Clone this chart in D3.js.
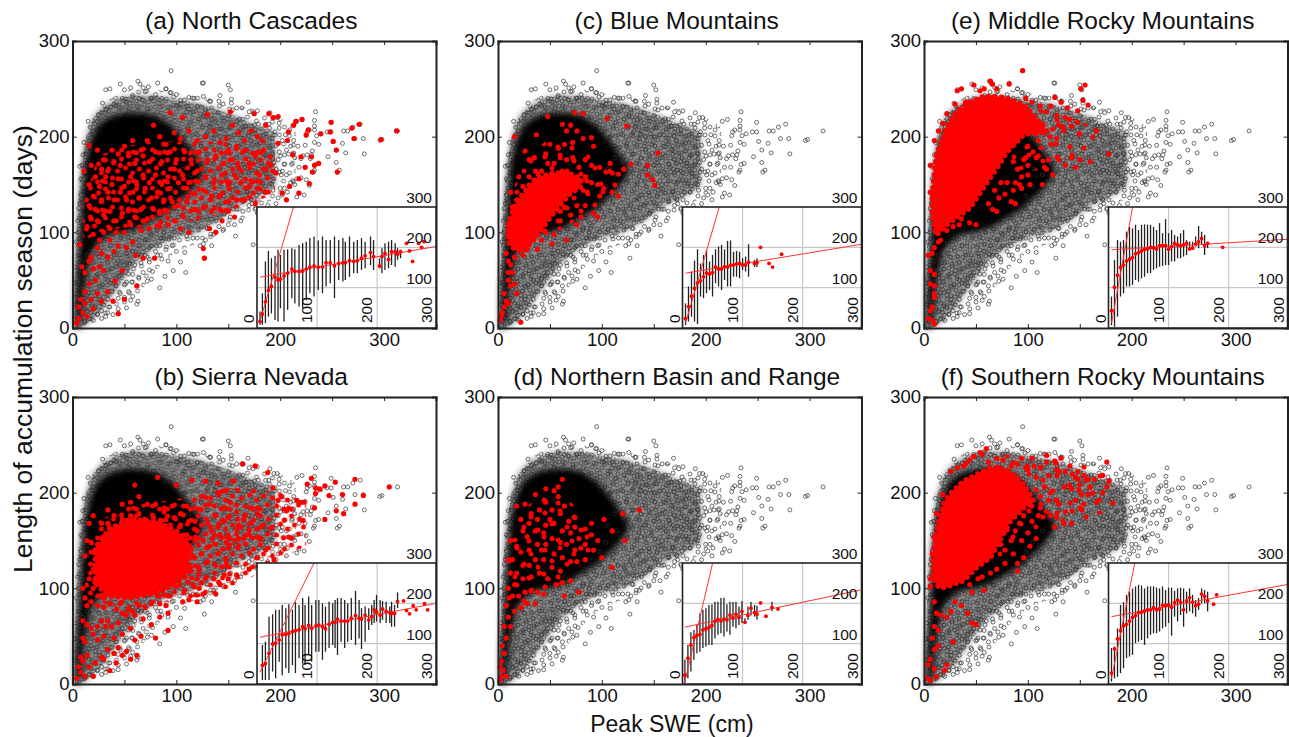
<!DOCTYPE html>
<html>
<head>
<meta charset="utf-8">
<title>Peak SWE vs accumulation season</title>
<script src="https://cdn.jsdelivr.net/npm/d3@7"></script>
<style>
body {margin:0; background:#fff;}
text {font-family:"Liberation Sans",Arial,sans-serif; fill:#111;}
</style>
</head>
<body>
<svg width="1289" height="737"></svg>
<script>
// x,y pairs read by eye: all sites, same grey cloud in every panel
const blackPts = [95,269,126,256,150,254,152,249,142,243,153,239,153,235,169,236,145,234,141,237,132,237,126,242,117,240,112,241,90,250,94,246,234,226,221,218,216,216,233,217,249,215,277,213,270,210,265,206,261,206,313,206,298,197,296,196,280,198,272,198,260,193,251,195,249,205,245,205,239,203,235,201,233,207,233,211,226,205,228,207,225,201,237,192,233,194,254,186,263,183,281,182,246,179,254,173,257,165,255,163,237,172,234,171,233,165,232,163,224,168,211,171,204,171,231,185,230,181,226,181,222,180,220,177,229,177,212,182,213,183,204,181,199,184,193,182,217,190,213,196,209,207,205,202,202,196,197,220,194,220,190,225,199,214,199,209,195,205,189,213,186,213,179,213,175,212,178,227,174,225,170,226,164,218,167,211,162,208,158,230,154,228,163,230,228,149,225,155,220,157,216,156,212,154,202,164,201,160,194,156,190,158,186,162,223,139,218,141,216,137,207,142,206,134,202,139,198,136,193,144,185,142,178,134,172,135,173,130,164,132,157,145,183,151,178,154,172,151,
84,42,109,58,97,60,89,54,127,73,104,69,77,59,72,49,76,51,62,44,57,48,63,28,62,25,56,29,50,32,44,31,52,21,44,15,39,14,32,12,58,33,50,45,45,54,42,51,64,52,55,68,53,62,74,69,82,76,66,76,63,77,88,94,93,93,108,79,123,86,126,88,134,86,130,104,136,98,133,98,157,96,174,87,145,102,141,106,146,119,156,108,
63,258,65,255,68,251,73,252,82,256,46,255,50,249,56,251,36,250,32,249,90,250,95,246,125,256,133,237,15,216,29,235,25,223,37,231,32,228,40,234,11,194,7,169,8,156,8,139,10,181,6,125,
170,205,176,208,181,201,186,203,192,198,172,196,178,192,184,194,190,188,196,191,168,186,174,183,180,185,186,180,192,182,198,176,170,176,176,174,182,172,188,170,194,173,166,168,172,165,178,162,184,166,164,198,160,190,158,178,155,170,162,160,150,222,146,216,152,210,158,216,140,225,134,218,128,228,144,208,150,200,138,206,132,210,126,222,120,232,116,226,110,232,104,238,100,232,108,222,148,192,142,186,152,182,146,176,158,150,154,144,148,156,142,148,136,158,152,130,146,138,140,128,134,136,128,128,122,120,130,114,138,112,146,120,152,116,164,122,170,128,176,124,162,112,168,142,158,124,150,108,118,112,112,106,124,106,104,100,110,96,98,94,116,94,96,86,90,82,84,86,80,80,74,84,70,76,
210,190,214,178,206,186,224,191,218,168,206,160,210,152,196,166,192,150,200,146,186,148,180,142,188,128,196,130,204,146,214,150,178,120,120,94,128,92,100,80,86,72,92,70,74,72,66,68,60,66,68,58,58,56,52,48,48,58,42,44,46,36,38,38,34,30,30,24,26,30,22,22,24,14,18,16,16,10,20,8,12,6,28,18,36,22,54,38,44,20,34,16,28,10,16,26,22,34,14,34,12,20,10,14,8,10,18,40,26,44,34,50,38,62,44,70,52,78,30,60,24,56,18,52,14,48,12,60,20,68,26,74,14,76,10,70,8,84,6,60,5,48,4,34,5,22,3,14,7,38,6,100,4,90,5,112,7,130,12,150,9,170,13,182,16,196,20,206,17,210,24,216,28,225,34,222,42,232,48,240,52,236,58,243,64,240,70,247,76,240,80,244,86,240,100,244,104,234,
130,204,136,198,142,200,124,190,130,182,136,172,142,166,128,166,124,156,132,150,118,146,114,160,120,174,116,188,108,200,112,178,106,166,104,148,110,136,98,138,100,122,92,118,88,110,82,104,76,98,88,100,70,92,64,86,58,80,52,68,46,66,40,76,34,68];
const bandX = [1,4,8,14,22,30,45,60,80,100,120,140,160,180,200,215];
const bandLow = [0,0,0,2,6,10,18,30,60,80,88,95,110,125,140,150];
const bandHigh = [40,110,170,205,225,235,245,250,250,245,243,238,232,228,220,210];
const midX = [2,6,12,20,30,45,60,80,100,120,140,160,175,195];
const midLow = [0,0,3,10,22,45,68,85,95,100,112,128,135,148];
const midHigh = [50,140,195,220,232,240,243,242,238,235,228,220,212,205];
const coreX = [3,7,12,18,25,35,50,65,80,95,105,115,125];
const coreLow = [0,0,50,80,90,98,100,105,115,125,135,145,160];
const coreHigh = [30,90,170,198,212,220,225,225,222,212,200,185,170];

// red points per region
const redA = [312,206,297,197,276,213,271,198,269,209,251,195,254,186,255,163,249,215,248,205,239,203,231,163,237,172,233,170,230,179,227,207,225,202,221,218,215,216,213,212,208,205,207,196,212,181,220,179,224,168,228,151,218,156,218,141,206,134,209,148,202,141,198,221,193,220,189,224,186,212,183,196,198,193,190,179,191,170,175,224,152,226,130,223,106,220,94,225,126,83,127,73,79,73,68,73,61,76,62,44,50,30,44,15,39,28,41,49,16,191,11,164,7,87,9,64,
178,200,172,206,166,196,160,204,154,212,148,198,184,186,176,180,170,172,164,184,158,190,150,186,142,194,136,206,128,200,120,196,112,206,104,198,98,204,90,192,84,200,78,212,72,196,66,186,58,196,50,190,44,182,38,186,30,176,24,186,18,170,160,168,154,176,146,172,138,180,130,176,122,184,114,176,108,184,100,176,94,184,86,174,80,184,74,174,68,180,60,172,54,180,46,170,40,174,34,164,28,166,22,158,16,150,172,154,180,160,186,166,196,162,178,146,170,148,162,152,156,160,150,150,144,160,136,152,128,158,120,164,112,152,106,160,98,166,92,158,86,150,80,160,74,152,68,160,62,150,56,158,50,148,44,156,38,150,32,158,26,148,20,138,16,128,166,134,158,134,150,132,142,138,134,138,126,144,118,140,110,146,102,152,94,146,88,134,82,142,76,136,70,146,64,136,58,142,52,134,46,142,40,134,34,142,28,134,22,124,18,114,150,122,142,124,134,122,126,126,118,124,110,132,102,128,96,132,90,122,84,120,78,124,72,114,66,124,60,116,54,124,48,120,42,112,36,122,30,118,24,112,20,98,26,92,14,106,106,118,98,112,92,108,84,106,74,104,66,102,56,108,50,100,42,100,36,104,30,100,44,86,40,80,36,92,28,78,24,84,18,74,34,74,26,64,20,62,16,70,12,58,30,60,22,50,16,46,12,38,24,36,18,30,12,26,28,28,8,30,6,22,10,16,14,12,6,10,4,5,20,20,34,38,48,60,52,84,58,90,112,100,104,104,68,112,132,104,138,100,176,130,186,142,144,112,156,116];
const redB = [305,206,280,197,272,214,272,188,253,211,243,207,238,204,234,205,233,184,243,172,222,171,223,190,234,199,254,181,261,178,260,198,247,197,230,215,226,209,220,190,216,192,201,196,198,192,206,181,191,163,181,151,181,164,170,161,165,172,158,162,165,152,156,150,146,170,135,152,160,145,148,148,138,146,128,195,140,210,164,230,176,228,188,221,193,205,155,212,148,202,140,200,128,212,115,213,82,216,100,208,60,208,
178,178,172,184,166,176,158,180,152,190,146,184,138,176,132,188,124,182,118,170,110,186,104,178,96,186,88,180,80,188,72,188,64,196,56,190,48,188,40,176,34,182,28,168,24,146,20,176,16,168,18,138,14,150,172,168,160,166,150,174,140,164,130,168,120,160,112,170,104,166,98,174,90,172,170,156,160,152,150,156,142,156,134,160,126,150,118,150,110,156,104,150,150,142,140,136,132,144,124,136,116,134,110,140,104,128,98,136,148,128,138,124,130,128,122,120,114,118,108,112,100,122,96,108,136,110,128,110,122,100,116,104,108,98,100,102,94,92,88,100,82,92,90,82,84,84,76,84,70,80,64,82,60,72,54,78,48,74,42,78,36,84,30,80,24,82,18,86,14,82,12,90,20,100,10,100,16,110,20,120,24,130,18,148,12,134,120,86,112,88,106,86,92,74,84,70,76,62,68,68,56,58,80,48,92,56,66,50,60,46,62,30,48,30,40,32,34,36,30,50,24,46,20,52,18,58,12,44,10,48,40,48,48,52,32,60,28,66,24,60,14,62,10,66,14,30,10,24,8,28,6,18,8,12,12,8,4,6,16,18,22,22,28,28,52,34,56,26,36,14,42,22,20,8,30,26,44,38,38,60,34,66,44,64,52,72,46,84,30,90,150,110,158,114,170,120,178,132,186,140,194,130,126,94,138,94,58,76,70,96,56,96,48,96,62,92,40,94,34,96,26,92,72,170,64,178,56,176,48,172,40,160,34,168,78,174,86,170,94,162,78,152,84,158,94,120,110,120,120,110,146,114,142,104];
const redC = [74,225,82,224,105,219,124,211,154,183,128,171,121,166,116,161,144,170,144,160,149,155,151,149,16,200,26,185,37,202,48,221,62,213,66,206,70,212,76,206,82,198,90,199,92,190,50,192,58,188,46,182,35,178,30,176,64,192,72,194,98,168,104,163,108,172,110,162,84,176,90,170,72,178,78,168,66,176,60,178,54,172,48,172,42,164,36,164,30,158,24,148,20,158,12,142,18,134,14,126,62,164,70,160,76,158,84,158,90,152,96,150,102,146,110,142,116,138,98,138,82,144,76,128,84,128,92,120,96,116,76,108,66,92,54,98,46,100,42,92,34,92,52,88,38,82,28,82,24,76,20,82,14,88,16,74,12,66,14,58,10,50,6,36,8,28,6,22,10,26,4,16,3,12,2,8,22,6,18,36,12,44,16,46,10,58,42,138,50,136,56,146,58,132,64,126,60,112,48,120,40,120,34,108,30,100,26,118,22,112,18,100,16,108,12,112,10,98,12,96,8,78,10,70,60,122,70,118,80,116,86,142,68,150,74,146];
const redD = [62,214,58,206,54,202,36,198,46,204,46,190,52,182,60,178,68,170,74,174,40,182,32,178,26,188,22,172,30,168,38,172,46,166,54,168,62,160,70,158,78,152,84,162,90,156,96,150,80,142,74,140,66,146,60,148,52,152,44,158,36,160,28,154,24,160,18,144,14,130,22,138,30,140,38,146,46,146,54,136,62,132,70,128,76,128,84,130,60,118,52,122,44,130,36,130,30,124,24,124,18,116,12,116,10,100,16,104,24,110,32,112,40,116,48,110,56,104,62,106,70,108,44,94,38,96,32,98,26,96,20,92,14,92,8,82,10,70,6,60,12,60,8,48,4,40,6,32,3,24,2,18,5,14,3,8,8,8,2,4,16,76,22,80,28,84,36,84,64,92,78,96,18,186,12,150,10,130,42,140,58,196,64,186,50,172,74,164,84,146,92,140,100,132,110,122,122,150,136,182,90,168,102,172,110,160,120,178];
const redE = [95,269,64,258,66,255,70,250,82,255,48,254,54,248,58,250,36,250,32,248,155,254,151,250,153,238,158,233,148,227,138,230,126,241,132,236,128,222,136,220,140,218,148,215,142,211,134,210,150,203,166,206,178,182,142,178,150,176,160,174,128,198,122,192,112,212,120,176,130,176,136,170,146,168,116,168,124,160,108,178,114,150,102,150,88,152,92,150,94,146,80,152,86,144,78,140,72,136,84,132,88,130,70,122,66,124,62,130,50,108,44,110,34,108,36,114,28,106,22,102,16,92,14,90,10,84,8,78,12,100,12,104,4,76,6,60,10,56,6,46,10,44,10,36,10,32,8,22,6,18,4,10,8,8,10,4,105,184,110,180,118,166,100,160,100,170,96,176,90,166,110,196,116,204,124,208,130,212,122,232,118,226,112,232,104,236,98,240,92,228,40,236,30,234,22,224,18,214,14,206,10,196,6,170,6,142,100,190,106,204,98,178,86,174,94,158,74,152,68,144];
const redF = [54,242,60,246,38,228,44,234,26,222,18,198,12,178,10,154,8,136,6,110,6,102,10,86,12,74,16,72,22,70,26,76,30,86,36,82,42,74,50,62,10,60,14,56,8,48,14,40,10,36,6,26,4,20,10,16,12,8,6,4,3,6,22,20,20,14,28,44,46,64,44,104,52,110,46,96,64,116,58,98,56,112,70,120,74,146,78,140,84,150,90,118,100,158,92,168,104,170,110,176,118,180,128,192,120,192,112,196,126,164,142,168,128,174,134,170,152,182,164,214,160,206,150,208,142,204,136,222,128,224,120,218,112,226,106,228,98,226,90,230,84,228,76,234,70,236,62,232,56,240,48,238,40,230,32,226,94,236,100,224,118,232,108,216,116,206,124,202,130,222,140,208,148,214,146,192,152,198,146,216,132,236,126,233,118,239,104,236,172,200,166,190,158,198,150,184,136,180,130,188,122,176,112,184,104,186,96,176,88,160,94,150,102,144,108,152,96,132,90,126,86,136,78,126,82,170,148,222,154,218,176,232,178,212,172,218,158,214];
// saturated red outline, where single dots can't be told apart
const redCoreB = {x:[22,35,55,80,100,112], low:[105,92,90,95,105,118], high:[140,162,172,170,160,148]};
const redCoreC = {x:[10,16,24,36,52,68,80], low:[90,82,80,94,118,139,148], high:[108,128,140,156,162,162,156]};
const redCoreE = {x:[8,12,22,31,44,57,70,80,96,108,118], low:[118,97,108,115,125,146,167,184,202,205,205], high:[140,181,210,226,236,242,242,240,233,219,206]};
const redCoreF = {x:[9,14,20,28,38,51,64,73,83,96,105], low:[112,101,101,104,108,122,132,150,170,184,190], high:[136,170,191,202,212,219,226,226,222,209,192]};
// wider area of speckled red around them
const redFieldA = {x:[10,25,50,80,110,140,170,195], low:[90,100,105,105,110,118,130,140], high:[130,180,190,195,195,195,190,180]};
const redFieldB = {x:[12,25,50,80,110,140,170,200,225], low:[85,85,80,85,88,95,110,130,145], high:[120,170,185,190,195,205,205,200,190]};
const redFieldC = {x:[12,25,45,65,85,100,115], low:[75,80,95,105,120,130,145], high:[140,170,195,200,190,175,160]};
const redFieldD = {x:[8,18,35,55,75,90], low:[80,80,85,100,120,135], high:[130,170,195,205,185,165]};
const redFieldE = {x:[60,80,100,120,140,165], low:[150,165,165,165,175,185], high:[245,245,235,225,220,210]};
const redFieldF = {x:[60,80,100,120,140,165,185], low:[125,135,160,165,165,175,185], high:[235,240,240,235,235,225,215]};

// inset bins (x, low, high, median of accumulation season per 5 cm bin)
const binXa = [5,9,14,19,24,30,35,39,45,51,58,63,70,76,82,88,95,102,109,115,122,129,136,143,147,154,161,167,174,180,189,194,204,208,213,219,224,230,234,239];
const binLoa = [8,8,12,28,36,20,16,49,16,45,74,61,53,49,69,86,78,94,86,103,111,74,119,115,119,127,136,136,144,148,156,144,148,136,144,148,156,152,169,173];
const binHia = [41,86,165,191,173,179,194,181,194,195,198,195,206,210,214,223,227,217,227,218,218,227,218,223,214,227,214,218,223,214,227,218,173,198,210,214,218,210,198,194];
const binMeda = [16,35,65,93,103,126,119,121,129,136,146,140,140,141,146,151,154,151,151,162,162,154,160,162,162,167,165,167,173,179,187,177,154,177,185,170,189,189,183,189];
const extraA = [249,210,254,191,259,165,269,210,274,200,278,214];
const steepA = [4,12,61,301], shallowA = [5,126,298,202];

const binXb = [9,14,20,26,31,37,42,48,53,59,64,70,76,80,86,91,98,103,109,114,120,126,130,134,140,146,151,157,164,170,174,180,186,191,195,199,205,209,215,221,224,229,234];
const binLob = [10,10,10,31,14,55,22,39,27,47,27,64,51,47,72,55,80,80,60,80,89,97,89,72,105,89,105,109,97,113,87,105,134,146,151,155,151,159,151,151,142,142,188];
const binHib = [97,105,167,173,184,184,196,188,198,184,203,196,213,196,217,196,208,208,200,192,204,200,208,213,213,208,200,213,231,208,188,192,188,196,208,221,208,206,204,192,204,196,227];
const binMedb = [46,51,76,99,101,109,122,123,125,130,132,134,142,137,145,138,144,146,142,137,148,153,153,161,156,156,156,163,170,163,161,171,159,167,184,178,171,186,180,177,175,175,204];
const extraB = [244,206,249,182,254,174,260,194,265,184,279,199,284,184];
const steepB = [5,29,95,300], shallowB = [5,116,298,200];

const binXc = [5,10,15,20,25,30,35,40,45,50,55,60,65,70,75,80,85,90,95,100,105,110,120,124];
const binLoc = [7,16,28,16,10,78,74,86,94,78,111,103,94,119,103,103,127,127,123,144,140,127,151,151];
const binHic = [61,103,140,167,195,160,181,194,165,181,195,202,206,195,216,217,189,191,189,173,177,208,169,173];
const binMedc = [24,53,79,98,112,117,127,136,134,137,151,146,146,152,151,156,156,159,160,156,156,163,160,162];
const extraC = [130,200,144,160,150,151,165,183];
const steepC = [5,12,61,299], shallowC = [5,136,300,208];

const binXd = [4,9,14,19,24,29,34,39,44,49,54,59,64,69,74,79,84,89,94,99,104,109,114,120,124,149];
const binLod = [2,14,31,60,76,80,89,93,97,97,113,122,126,118,130,122,142,138,146,151,151,159,170,167,159,181];
const binHid = [60,97,128,134,146,175,184,188,196,198,204,204,213,214,198,204,203,204,192,206,163,192,203,196,194,204];
const binMedd = [22,64,97,115,120,123,134,137,140,145,155,160,156,161,159,171,163,173,165,180,153,170,188,177,173,190];
const extraD = [130,201,139,168,159,186];
const steepD = [4,6,50,299], shallowD = [4,141,296,233];

const binXe = [5,10,15,20,25,30,35,40,45,50,55,60,65,70,75,80,85,90,95,100,105,110,115,120,125,130,135,140,145,150,155,160,165];
const binLoe = [7,3,28,78,86,103,103,107,119,115,123,127,136,136,144,148,152,154,156,156,165,165,173,173,177,181,194,194,202,198,206,181,198];
const binHie = [78,169,218,214,218,239,251,247,256,243,256,257,256,256,251,243,260,235,270,235,243,231,227,235,243,218,214,214,227,253,239,231,214];
const binMede = [43,101,131,150,156,166,170,175,184,187,191,195,196,200,199,196,204,204,204,195,202,210,206,204,206,210,196,198,208,214,222,204,210];
const extraE = [190,200];
const steepE = [5,12,40,299], shallowE = [5,194,299,220];

const binXf = [5,10,15,20,25,30,35,40,45,50,55,60,65,70,75,80,85,90,95,100,105,110,115,120,125,130,135,140,145,150,155,160,165];
const binLof = [6,14,18,27,39,64,68,72,101,105,109,97,113,122,126,126,130,138,142,151,120,167,155,171,142,175,180,175,167,184,200,200,180];
const binHif = [89,93,138,196,203,221,229,237,242,246,244,237,242,242,242,239,237,242,233,239,239,231,237,239,237,229,237,221,208,213,237,233,229];
const binMedf = [27,87,112,132,144,148,156,165,170,177,178,181,184,184,189,184,186,195,194,196,190,202,208,203,184,206,214,203,194,198,223,217,206];
const extraF = [175,198,180,221];
const steepF = [5,14,44,302], shallowF = [5,167,299,247];

const regions = [
  {title:"(a) North Cascades", col:0, row:0, red:redA, field:redFieldA, tex:"dotsRed", binX:binXa, lo:binLoa, hi:binHia, med:binMeda, extra:extraA, steep:steepA, shallow:shallowA},
  {title:"(b) Sierra Nevada", col:0, row:1, red:redB, core:redCoreB, field:redFieldB, tex:"dotsRed", binX:binXb, lo:binLob, hi:binHib, med:binMedb, extra:extraB, steep:steepB, shallow:shallowB},
  {title:"(c) Blue Mountains", col:1, row:0, red:redC, core:redCoreC, field:redFieldC, tex:"dotsThin", binX:binXc, lo:binLoc, hi:binHic, med:binMedc, extra:extraC, steep:steepC, shallow:shallowC},
  {title:"(d) Northern Basin and Range", col:1, row:1, red:redD, field:redFieldD, tex:"dotsThin", binX:binXd, lo:binLod, hi:binHid, med:binMedd, extra:extraD, steep:steepD, shallow:shallowD},
  {title:"(e) Middle Rocky Mountains", col:2, row:0, red:redE, core:redCoreE, field:redFieldE, tex:"dotsThin", binX:binXe, lo:binLoe, hi:binHie, med:binMede, extra:extraE, steep:steepE, shallow:shallowE},
  {title:"(f) Southern Rocky Mountains", col:2, row:1, red:redF, core:redCoreF, field:redFieldF, tex:"dotsThin", binX:binXf, lo:binLof, hi:binHif, med:binMedf, extra:extraF, steep:steepF, shallow:shallowF}
];

const mainTicksX = [0,50,100,150,200,250,300];
const mainTicksY = [0,100,200,300];
const insetTicks = [100,200,300];

const lefts = [72.5, 498, 924], tops = [41, 397];
const w = 363.5, h = 287, insetW = 179, insetH = 121;

const svg = d3.select("svg");
const pairs = flat => d3.range(0, flat.length, 2).map(i => [flat[i], flat[i+1]]);

const x = d3.scaleLinear().domain([0,350]).range([0,w]);
const y = d3.scaleLinear().domain([0,300]).range([h,0]);
const ix = d3.scaleLinear().domain([0,298]).range([0,insetW]);
const iy = d3.scaleLinear().domain([0,300]).range([insetH,0]);

// texture tiles, used to shade the areas too dense to list point by point
const defs = svg.append("defs");
function tile(id, tw, th, spots, draw) {
  const p = defs.append("pattern").attr("id", id).attr("patternUnits", "userSpaceOnUse").attr("width", tw).attr("height", th);
  pairs(spots).forEach(s => [-tw,0,tw].forEach(dx => [-th,0,th].forEach(dy => draw(p, s[0]+dx, s[1]+dy))));
}
const ring = (p,cx,cy) => p.append("circle").attr("cx",cx).attr("cy",cy).attr("r",2).attr("fill","none").attr("stroke","#333").attr("stroke-width",0.7);
const dot = (p,cx,cy) => p.append("circle").attr("cx",cx).attr("cy",cy).attr("r",2.5).attr("fill","#f00");
tile("ringsDense", 29, 23, [2,3,7,1,12,4,17,2,23,5,27,2,4,8,10,9,15,7,20,10,26,9,1,13,6,14,12,13,18,15,23,14,28,16,3,19,9,20,14,18,20,21,25,20], ring);
tile("ringsSparse", 41, 37, [3,4,11,2,20,6,28,3,36,7,7,12,15,11,25,14,33,13,2,20,12,21,19,19,30,22,38,20,6,29,16,30,24,28,34,31], ring);
tile("dotsRed", 31, 29, [2,3,10,6,18,2,26,7,5,12,14,14,22,11,29,16,9,21,18,22,25,25,2,25,30,24], dot);
tile("dotsThin", 43, 37, [4,5,19,3,33,9,11,16,26,19,40,22,3,29,17,32,31,33], dot);

const blur = defs.append("filter").attr("id", "soft").attr("x", "-10%").attr("y", "-10%").attr("width", "120%").attr("height", "120%");
blur.append("feGaussianBlur").attr("stdDeviation", 3);

function bandPath(xs, low, high) {
  const area = d3.area().x(d => x(d[0])).y0(d => y(d[1])).y1(d => y(d[2]));
  return area(xs.map((v,i) => [v, low[i], high[i]]));
}

regions.forEach((r,k) => {
  const g = svg.append("g").attr("transform", `translate(${lefts[r.col]},${tops[r.row]})`);

  g.append("text").attr("x", w/2 - 3).attr("y", -12).attr("text-anchor", "middle")
    .style("font-size", "24.5px").text(r.title);

  // grey cloud, saturated part first
  g.append("path").attr("d", bandPath(bandX, bandLow, bandHigh)).attr("fill", "url(#ringsSparse)");
  g.append("path").attr("d", bandPath(midX, midLow, midHigh)).attr("fill", "url(#ringsDense)");
  g.append("path").attr("d", bandPath(midX, midLow, midHigh)).attr("fill", "#3a3a3a").attr("opacity", 0.6).attr("filter", "url(#soft)");
  g.append("path").attr("d", bandPath(coreX, coreLow, coreHigh)).attr("fill", "#040404").attr("filter", "url(#soft)");
  g.append("g").selectAll("circle").data(pairs(blackPts)).enter().append("circle")
    .attr("cx", d => x(d[0])).attr("cy", d => y(d[1])).attr("r", 2)
    .attr("fill", "none").attr("stroke", "#333").attr("stroke-width", 0.7);

  g.append("path").attr("d", bandPath(r.field.x, r.field.low, r.field.high)).attr("fill", `url(#${r.tex})`);
  if (r.core) g.append("path").attr("d", bandPath(r.core.x, r.core.low, r.core.high)).attr("fill", "#f00")
    .attr("stroke", "#f00").attr("stroke-width", 5.5).attr("stroke-linecap", "round").attr("stroke-dasharray", "0 6.5");
  g.append("g").selectAll("circle").data(pairs(r.red)).enter().append("circle")
    .attr("cx", d => x(d[0])).attr("cy", d => y(d[1])).attr("r", 2.6).attr("fill", "#f00");

  // main axes
  const axG = g.append("g");
  const fmt = d => d % 100 === 0 ? d : "";
  axG.append("g").attr("transform", `translate(0,${h})`)
    .call(d3.axisBottom(x).tickValues(mainTicksX).tickSize(-4).tickPadding(5).tickFormat(fmt));
  axG.append("g").call(d3.axisTop(x).tickValues(mainTicksX).tickSize(-4).tickFormat(""));
  axG.append("g").call(d3.axisLeft(y).tickValues(mainTicksY).tickSize(-4).tickPadding(3));
  axG.append("g").attr("transform", `translate(${w},0)`)
    .call(d3.axisRight(y).tickValues(mainTicksY).tickSize(-4).tickFormat(""));
  axG.selectAll(".domain").attr("stroke", "#222").attr("stroke-width", 2);
  axG.selectAll(".tick line").attr("stroke", "#222").attr("stroke-width", 1);
  axG.selectAll("text").style("font-family", "Liberation Sans").style("font-size", "18.5px").style("fill", "#111");

  // inset
  const ins = g.append("g").attr("transform", `translate(${w-insetW},${h-insetH})`);
  ins.append("clipPath").attr("id", "clip"+k).append("rect").attr("width", insetW).attr("height", insetH);
  ins.append("rect").attr("width", insetW).attr("height", insetH).attr("fill", "#fff");
  ins.append("g").selectAll("line").data(insetTicks.slice(0,2)).enter().append("line")
    .attr("x1", d => ix(d)).attr("x2", d => ix(d)).attr("y1", 0).attr("y2", insetH)
    .attr("stroke", "#c8c8c8").attr("stroke-width", 1.2);
  ins.append("g").selectAll("line").data(insetTicks.slice(0,2)).enter().append("line")
    .attr("x1", 0).attr("x2", insetW).attr("y1", d => iy(d)).attr("y2", d => iy(d))
    .attr("stroke", "#c8c8c8").attr("stroke-width", 1.2);

  ins.append("g").selectAll("line").data(r.binX).enter().append("line")
    .attr("x1", d => ix(d)).attr("x2", d => ix(d))
    .attr("y1", (d,i) => iy(r.lo[i])).attr("y2", (d,i) => iy(r.hi[i]))
    .attr("stroke", "#222").attr("stroke-width", 1.3);

  const inner = ins.append("g").attr("clip-path", `url(#clip${k})`);
  [r.steep, r.shallow].forEach(s => {
    inner.append("line").attr("x1", ix(s[0])).attr("y1", iy(s[1])).attr("x2", ix(s[2])).attr("y2", iy(s[3]))
      .attr("stroke", "#f33").attr("stroke-width", 1);
  });
  const dots = r.binX.map((v,i) => [v, r.med[i]]).concat(pairs(r.extra));
  inner.selectAll("circle").data(dots).enter().append("circle")
    .attr("cx", d => ix(d[0])).attr("cy", d => iy(d[1])).attr("r", 1.9).attr("fill", "#f00");

  ins.append("rect").attr("width", insetW).attr("height", insetH).attr("fill", "none")
    .attr("stroke", "#222").attr("stroke-width", 1.6);

  // inset labels sit inside the box
  insetTicks.forEach(t => {
    ins.append("text").attr("x", insetW - 4).attr("y", iy(t) - 4).attr("text-anchor", "end")
      .style("font-size", "15.5px").text(t);
    ins.append("text").attr("transform", `translate(${ix(t) - 5},${insetH - 5}) rotate(-90)`)
      .style("font-size", "15.5px").text(t);
  });
  ins.append("text").attr("transform", `translate(-3,${insetH - 5}) rotate(-90)`)
    .style("font-size", "15.5px").text("0");
});

svg.append("text").attr("transform", "translate(32,349) rotate(-90)").attr("text-anchor", "middle")
  .style("font-size", "26.5px").text("Length of accumulation season (days)");
svg.append("text").attr("x", 672).attr("y", 732).attr("text-anchor", "middle")
  .style("font-size", "23px").text("Peak SWE (cm)");
</script>
</body>
</html>
